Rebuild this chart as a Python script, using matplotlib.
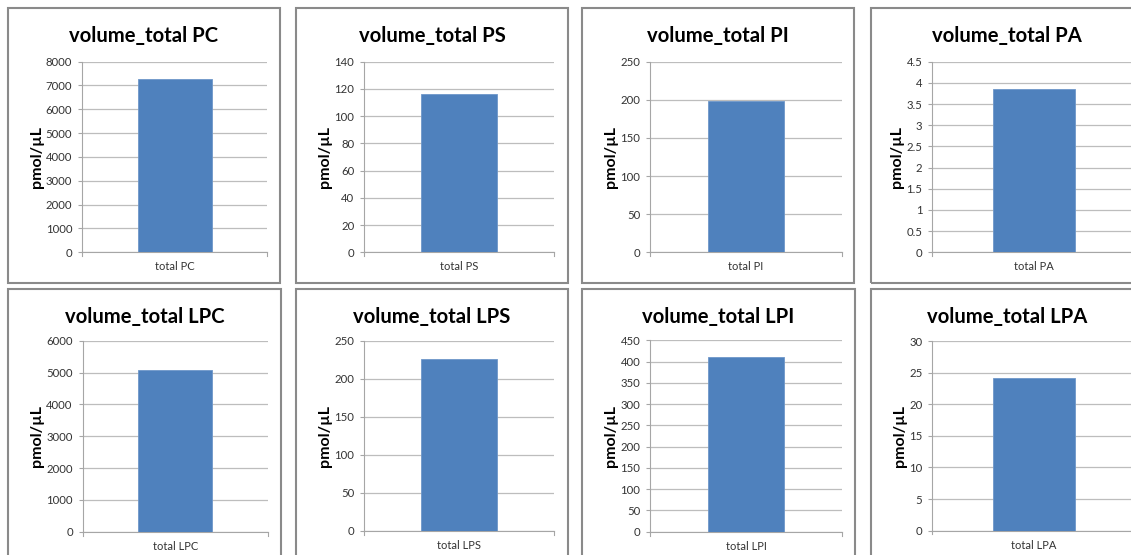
import matplotlib
matplotlib.use("Agg")
import matplotlib.pyplot as plt
from matplotlib.patches import Rectangle
import numpy as np

# Lipid class totals (pmol/µL)
categories = ["total PC", "total PS", "total PI", "total PA",
              "total LPC", "total LPS", "total LPI", "total LPA"]
titles = ["volume_total PC", "volume_total PS", "volume_total PI", "volume_total PA",
          "volume_total LPC", "volume_total LPS", "volume_total LPI", "volume_total LPA"]
values = [7260, 116.5, 199, 3.85, 5080, 226, 410, 24.1]
y_max = [8000, 140, 250, 4.5, 6000, 250, 450, 30]
y_step = [1000, 20, 50, 0.5, 1000, 50, 50, 5]
y_label = "pmol/µL"

W, H = 1131, 555
DPI = 100
fig = plt.figure(figsize=(W / DPI, H / DPI), dpi=DPI)
fig.patch.set_facecolor("white")

BAR = "#4F81BD"
GRID = "#BDBDBD"
AXIS = "#A6A6A6"
TEXT = "#333333"
FONT = "Lato"


def frac(x0, y0, x1, y1):
    """Pixel box (top-left origin) -> figure fraction rect."""
    return [x0 / W, 1 - y1 / H, (x1 - x0) / W, (y1 - y0) / H]


# panel frames (x0, y0, x1, y1) and plot areas in pixels
panels = [
    (8, 8, 280, 283), (296, 8, 568, 283), (582, 8, 854, 283), (871, 8, 1143, 283),
    (8, 289, 281, 570), (296, 289, 568, 570), (582, 289, 855, 570), (871, 289, 1143, 570),
]
plots = [
    (82, 61.5, 267, 252.3), (364, 61.7, 554, 252.3), (650, 61.7, 842, 252.3), (932, 61.7, 1136, 252.3),
    (82.5, 340.7, 268, 531.7), (364, 340.7, 554, 530.7), (650, 340.3, 842, 531.7), (932, 341, 1136, 530.7),
]

for i in range(8):
    px0, py0, px1, py1 = panels[i]
    fig.patches.append(Rectangle((px0 / W, 1 - py1 / H), (px1 - px0) / W, (py1 - py0) / H,
                                 transform=fig.transFigure, fill=False,
                                 edgecolor="#8A8A8A", linewidth=1.5, zorder=0))
    # title centred over the panel
    fig.text(((px0 + px1) / 2) / W, 1 - (py0 + 28) / H, titles[i],
             ha="center", va="center", fontsize=14.6, fontweight="bold",
             family=FONT, color="black")

    ax = fig.add_axes(frac(*plots[i]))
    ax.set_facecolor("none")
    ax.bar([0], [values[i]], width=0.4, color=BAR, edgecolor="#6E97C9",
           linewidth=0.6, zorder=3)
    ax.set_xlim(-0.5, 0.5)
    ax.set_ylim(0, y_max[i])
    ticks = np.arange(0, y_max[i] + y_step[i] / 2, y_step[i])
    ax.set_yticks(ticks)
    ax.set_yticklabels([f"{t:g}" for t in ticks], family=FONT, fontsize=8.2, color=TEXT)
    ax.set_xticks([0])
    ax.set_xticklabels([categories[i]], family=FONT, fontsize=8.0, color=TEXT)
    ax.tick_params(axis="x", length=0, pad=6.5)
    ax.tick_params(axis="y", length=3, width=0.8, color=AXIS, pad=4)
    ax.grid(axis="y", color=GRID, linewidth=0.9, zorder=0)
    for s in ("top", "right"):
        ax.spines[s].set_visible(False)
    ax.spines["left"].set_color(AXIS)
    ax.spines["bottom"].set_color(AXIS)
    ax.spines["left"].set_linewidth(0.8)
    ax.spines["bottom"].set_linewidth(0.8)
    # category boundary ticks on the x axis
    for xb in (-0.5, 0.5):
        ax.plot([xb, xb], [0, -0.02], transform=ax.get_xaxis_transform(),
                color=AXIS, linewidth=0.8, clip_on=False)
    ax.set_ylabel(y_label, family=FONT, fontsize=11.5, fontweight="bold",
                  color="black", labelpad=1.5)

fig.savefig("out.png", dpi=DPI, facecolor="white")
